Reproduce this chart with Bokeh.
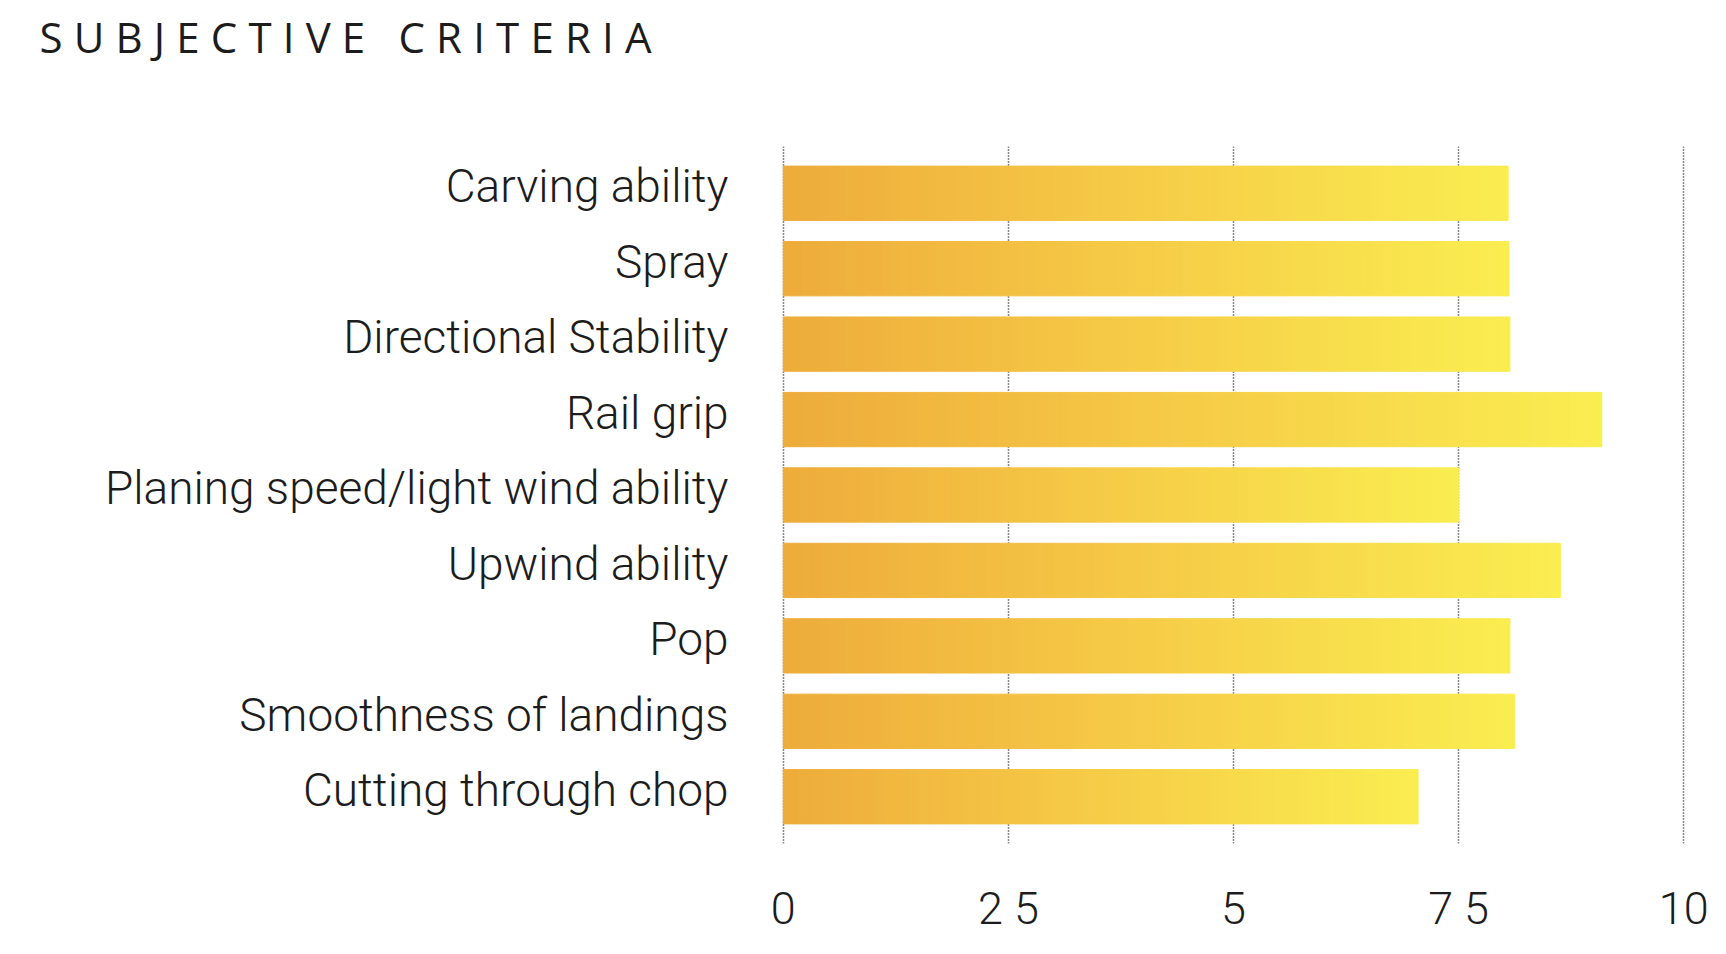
import numpy as np
from bokeh.plotting import figure
from bokeh.models import Range1d, Title, FixedTicker, LinearAxis
from bokeh.embed import file_html
from bokeh.resources import INLINE

# ---- data ----
title_text = "SUBJECTIVE CRITERIA"
categories = [
    "Carving ability",
    "Spray",
    "Directional Stability",
    "Rail grip",
    "Planing speed/light wind ability",
    "Upwind ability",
    "Pop",
    "Smoothness of landings",
    "Cutting through chop",
]
scores = [8.05, 8.06, 8.07, 9.09, 7.5, 8.63, 8.07, 8.12, 7.05]
tick_values = [0, 2.5, 5, 7.5, 10]
tick_labels = ["0", "2 5", "5", "7 5", "10"]

# ---- style ----
grad_stops = [(0.0, (238, 172, 59)), (0.5, (246, 204, 71)), (1.0, (250, 237, 80))]
N_SLICES = 80
LABEL_FONT = "Roboto Light"
PAD = 0.12
LABEL_SHIFT = -0.09
XPAD = 0.02

n = len(categories)
# row position of each category (first category at the top)
row_pos = [n - 1 - i + 0.5 for i in range(n)]


def grad_color(t):
    for (t0, c0), (t1, c1) in zip(grad_stops[:-1], grad_stops[1:]):
        if t <= t1:
            f = (t - t0) / (t1 - t0) if t1 > t0 else 0
            c = [round(a + (b - a) * f) for a, b in zip(c0, c1)]
            return "#%02x%02x%02x" % tuple(c)
    return "#%02x%02x%02x" % grad_stops[-1][1]


ys, lefts, rights, colors = [], [], [], []
for yp, s in zip(row_pos, scores):
    for k in range(N_SLICES):
        ys.append(yp)
        lefts.append(s * k / N_SLICES)
        rights.append(s * (k + 1) / N_SLICES)
        colors.append(grad_color(k / (N_SLICES - 1)))

spaced = "\u2009\u200a".join(title_text)

p = figure(
    width=1726,
    height=954,
    title=spaced,
    x_range=Range1d(tick_values[0] - XPAD, tick_values[-1] + XPAD),
    y_range=Range1d(-PAD, n + PAD),
    output_backend="svg",
    toolbar_location=None,
    min_border_left=781,
    min_border_right=41,
    min_border_top=146,
    min_border_bottom=111,
    y_axis_location=None,
)
p.outline_line_color = None
p.background_fill_color = "white"
p.border_fill_color = "white"

p.hbar(y=ys, left=lefts, right=rights, height=0.72,
       fill_color=colors, line_color=colors, line_width=1)

# grid
p.ygrid.grid_line_color = None
p.xgrid.ticker = FixedTicker(ticks=tick_values)
p.xgrid.grid_line_color = "#111111"
p.xgrid.grid_line_dash = "1 2"
p.xgrid.grid_line_width = 1.5

# x axis
p.xaxis.ticker = FixedTicker(ticks=tick_values)
p.xaxis.major_label_overrides = {v: l for v, l in zip(tick_values, tick_labels)}
p.xaxis.axis_line_color = None
p.xaxis.major_tick_line_color = None
p.xaxis.minor_tick_line_color = None
p.xaxis.major_label_text_font = LABEL_FONT
p.xaxis.major_label_text_font_size = "45px"
p.xaxis.major_label_text_color = "#1c1c1c"
p.xaxis.major_label_standoff = 32

# y axis: category labels on a twin range shifted slightly so the labels
# sit a little above the bar centres, as in the reference
p.extra_y_ranges = {"labels": Range1d(-PAD + LABEL_SHIFT, n + PAD + LABEL_SHIFT)}
yax = LinearAxis(y_range_name="labels", ticker=FixedTicker(ticks=row_pos),
                 major_label_overrides={pos: c for pos, c in zip(row_pos, categories)})
yax.axis_line_color = None
yax.major_tick_line_color = None
yax.minor_tick_line_color = None
yax.major_label_text_font = LABEL_FONT
yax.major_label_text_font_size = "46px"
yax.major_label_text_color = "#1c1c1c"
yax.major_label_standoff = 47
p.add_layout(yax, "left")

# title (letter-spaced with thin + hair spaces), pushed to the top of the
# canvas by a near-invisible spacer panel between it and the frame
p.title.align = "left"
p.title.offset = -742
p.title.standoff = 10
p.title.vertical_align = "top"
p.title.text_font = "Open Sans"
p.title.text_font_size = "42px"
p.title.text_font_style = "normal"
p.title.text_color = "#1c1c1c"

spacer = Title(text=" ", standoff=72, text_font_size="1px", text_color="white")
p.add_layout(spacer, "above")

open("out.html", "w").write(file_html(p, INLINE))
